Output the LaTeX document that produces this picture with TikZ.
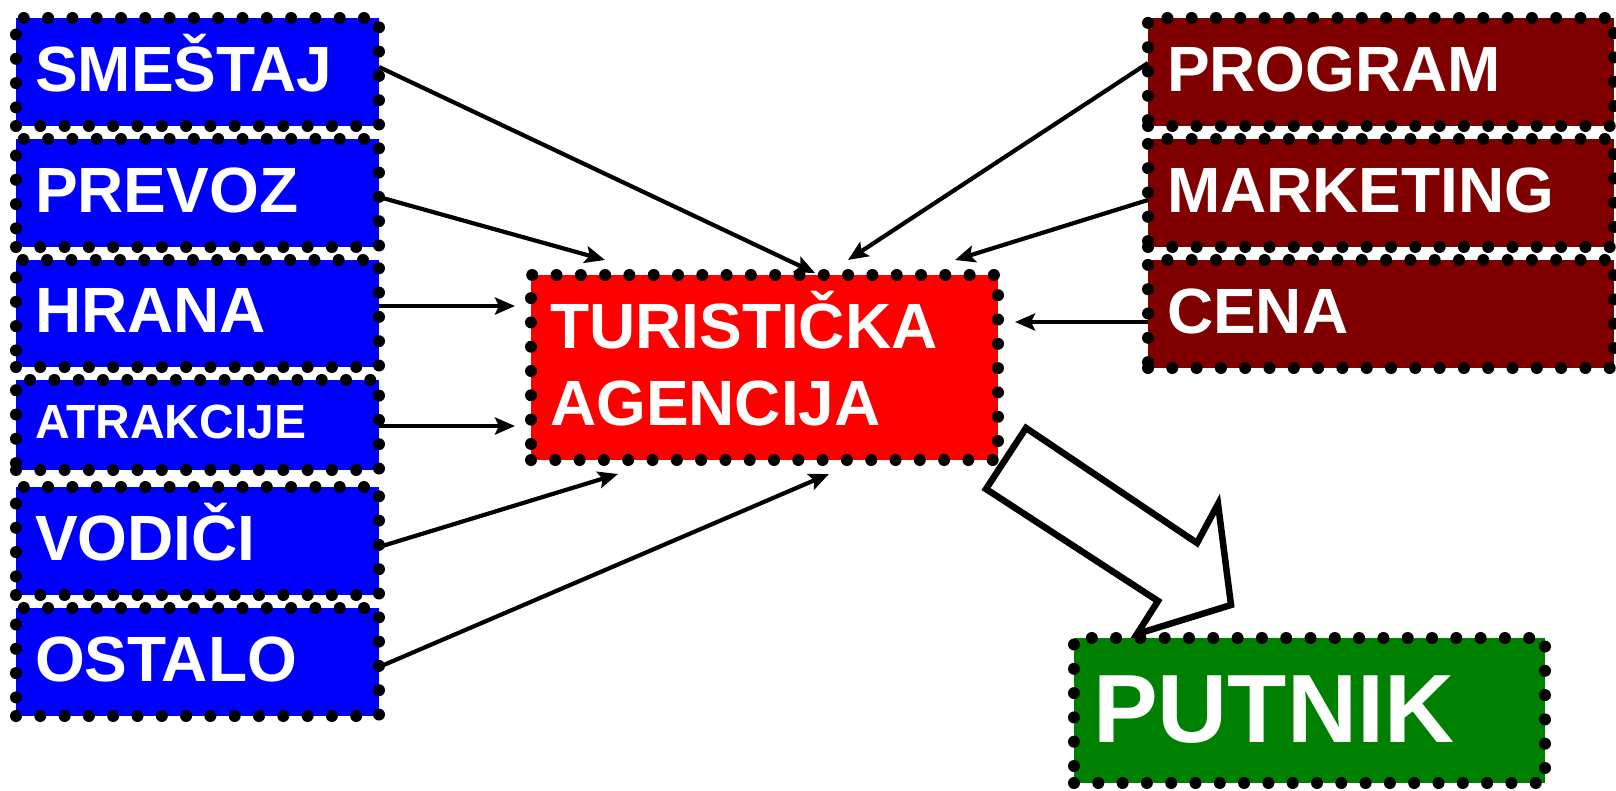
\documentclass[tikz,border=0pt]{standalone}
\usepackage{fontspec}
\setmainfont{Liberation Sans}
\usetikzlibrary{arrows.meta,calc}
\definecolor{boxblue}{RGB}{0,0,255}
\definecolor{boxred}{RGB}{255,0,0}
\definecolor{boxmaroon}{RGB}{128,0,0}
\definecolor{boxgreen}{RGB}{0,128,0}
\tikzset{
  dotbox/.style={rectangle, draw=black, line width=12pt, dash pattern=on 0pt off 24.3pt,
    line cap=round, inner xsep=19pt, inner ysep=0pt, outer sep=0pt, align=left, text=white,
    font=\bfseries\fontsize{64}{77}\selectfont, text height=46pt, text depth=8pt},
  leftbox/.style={dotbox, fill=boxblue, minimum width=363pt, text width=325pt, minimum height=108pt},
  rightbox/.style={dotbox, fill=boxmaroon, minimum width=466pt, text width=428pt, minimum height=108pt},
  conn/.style={line width=4.2pt, -{Stealth[length=20pt,width=17pt,inset=4pt]}},
  bigarrow/.style={line width=6.5pt, draw=black, fill=white, line join=miter}
}
\begin{document}
\begin{tikzpicture}[x=1pt,y=-1pt]
\useasboundingbox (0,0) rectangle (1616,790);
% left column
\node[leftbox] (smestaj) at (197.5,72) {SMEŠTAJ};
\node[leftbox] (prevoz) at (197.5,193) {PREVOZ};
\node[leftbox, minimum height=107pt] (hrana) at (197.5,313.5) {HRANA};
\node[leftbox, minimum height=90pt, font=\bfseries\fontsize{48}{58}\selectfont, text height=35pt, text depth=9pt] (atrakcije) at (197.5,425) {ATRAKCIJE};
\node[leftbox] (vodici) at (197.5,541) {VODIČI};
\node[leftbox] (ostalo) at (197.5,662) {OSTALO};
% right column
\node[rightbox] (program) at (1381,72) {PROGRAM};
\node[rightbox] (marketing) at (1381,193) {MARKETING};
\node[rightbox] (cena) at (1381,314) {CENA};
% centre
\node[dotbox, fill=boxred, minimum width=467pt, text width=429pt, minimum height=185pt, text height=46pt, text depth=85pt] (agencija) at (764.5,367.5) {TURISTIČKA\\AGENCIJA};
% big hollow arrow
\draw[bigarrow] (1026,428) -- (1197,543) -- (1218,504) -- (1231,605) -- (1137,634) -- (1158,601) -- (986,489) -- cycle;
% putnik
\node[dotbox, fill=boxgreen, minimum width=471pt, text width=433pt, minimum height=145pt,
  font=\bfseries\fontsize{97}{116}\selectfont, text height=70pt, text depth=7pt] (putnik) at (1309.5,710.5) {PUTNIK};
% arrow tips
\coordinate (tSm) at (815,273);
\coordinate (tPr) at (605,260);
\coordinate (tHr) at (515,306);
\coordinate (tAt) at (515,426);
\coordinate (tVo) at (618,474);
\coordinate (tOs) at (829,474);
\coordinate (tPg) at (848,260);
\coordinate (tMk) at (955,260);
\coordinate (tCe) at (1015,322);
% connectors
\draw[conn] ([yshift=5pt]smestaj.east) -- (tSm);
\draw[conn] ([yshift=-4pt]prevoz.east) -- (tPr);
\draw[conn] ([yshift=7.5pt]hrana.east) -- (tHr);
\draw[conn] ([yshift=-1pt]atrakcije.east) -- (tAt);
\draw[conn] ([yshift=-6pt]vodici.east) -- (tVo);
\draw[conn] ([yshift=-5pt]ostalo.east) -- (tOs);
\draw[conn] ([yshift=9pt]program.west) -- (tPg);
\draw[conn] ([yshift=-7pt]marketing.west) -- (tMk);
\draw[conn] ([yshift=-8pt]cena.west) -- (tCe);
\end{tikzpicture}
\end{document}
